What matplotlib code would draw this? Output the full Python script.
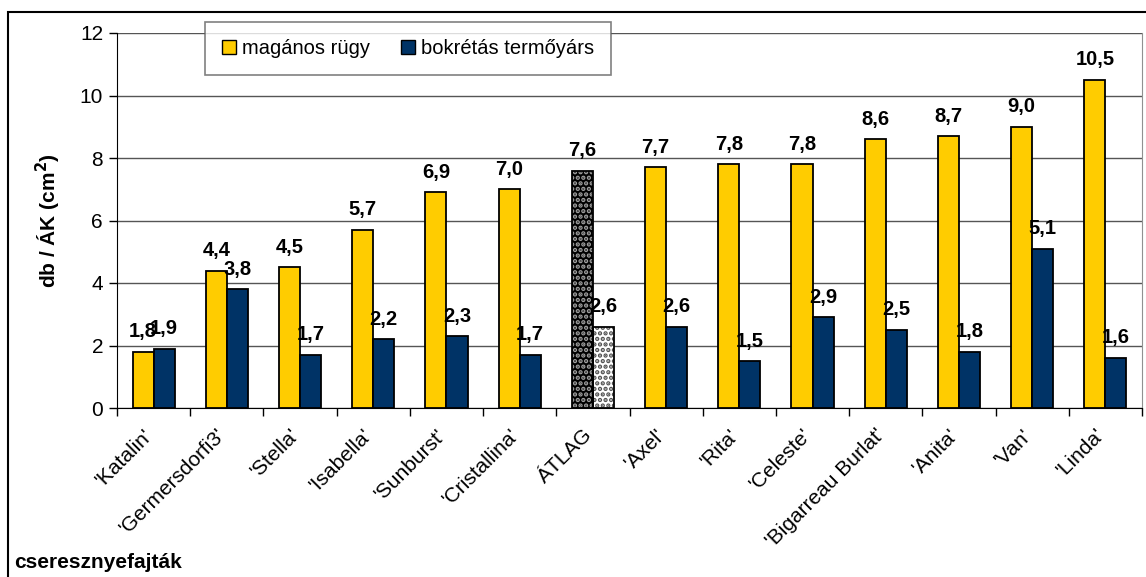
import numpy as np
import matplotlib
matplotlib.use('Agg')
import matplotlib.pyplot as plt
from matplotlib.patches import Rectangle, Patch

plt.rcParams['font.family'] = ['Liberation Sans', 'DejaVu Sans']
plt.rcParams['hatch.linewidth'] = 2.2

fajtak = ["'Katalin'", "'Germersdorfi3'", "'Stella'", "'Isabella'", "'Sunburst'",
          "'Cristallina'", "ÁTLAG", "'Axel'", "'Rita'", "'Celeste'",
          "'Bigarreau Burlat'", "'Anita'", "'Van'", "'Linda'"]
maganos = [1.8, 4.4, 4.5, 5.7, 6.9, 7.0, 7.6, 7.7, 7.8, 7.8, 8.6, 8.7, 9.0, 10.5]
bokretas = [1.9, 3.8, 1.7, 2.2, 2.3, 1.7, 2.6, 2.6, 1.5, 2.9, 2.5, 1.8, 5.1, 1.6]
atlag_idx = 6

sarga = '#ffcc00'
kek = '#003366'

fig = plt.figure(figsize=(11.46, 5.77), dpi=100)
ax = fig.add_axes([117 / 1146, 1 - 408 / 577, 1025 / 1146, 375 / 577])

x = np.arange(len(fajtak))
w = 0.288
for i in range(len(fajtak)):
    if i == atlag_idx:
        # mintazott atlag oszlopok
        ax.bar(x[i] - w / 2, maganos[i], w, color='black', edgecolor='#a0a0a0',
               hatch='...', lw=0, zorder=3)
        ax.bar(x[i] - w / 2, maganos[i], w, fill=False, edgecolor='black', lw=1.3, zorder=4)
        ax.bar(x[i] + w / 2, bokretas[i], w, color='white', edgecolor='#505050',
               hatch='...', lw=0, zorder=3)
        ax.bar(x[i] + w / 2, bokretas[i], w, fill=False, edgecolor='black', lw=1.3, zorder=4)
    else:
        ax.bar(x[i] - w / 2, maganos[i], w, color=sarga, edgecolor='black', lw=1.3, zorder=3)
        ax.bar(x[i] + w / 2, bokretas[i], w, color=kek, edgecolor='black', lw=1.3, zorder=3)

for i in range(len(fajtak)):
    for xx, v in [(x[i] - w / 2, maganos[i]), (x[i] + w / 2, bokretas[i])]:
        ax.annotate(('%.1f' % v).replace('.', ','), (xx, v), xytext=(0, 10.5),
                    textcoords='offset points', ha='center', va='baseline',
                    fontsize=14.5, fontweight='bold', zorder=5)

ax.set_xlim(-0.5, len(fajtak) - 0.5)
ax.set_ylim(0, 12)
ax.set_yticks(np.arange(0, 13, 2))
ax.yaxis.grid(True, color='#555555', lw=1)
ax.set_axisbelow(True)
ax.tick_params(axis='y', length=6, width=1, labelsize=15, pad=4)
ax.set_xticks(x)
ax.set_xticklabels(fajtak, rotation=45, ha='right', va='baseline', rotation_mode='anchor',
                   fontsize=15)
ax.set_xticks(np.arange(-0.5, len(fajtak), 1), minor=True)
ax.tick_params(axis='x', which='major', length=0, pad=20)
ax.tick_params(axis='x', which='minor', length=6, width=1)
ax.spines['top'].set_visible(False)
ax.spines['right'].set_color('#909090')
ax.set_ylabel('db / ÁK (cm$^\\mathbf{2}$)', fontsize=15, fontweight='bold', labelpad=12)

handles = [Patch(facecolor=sarga, edgecolor='black', label='magános rügy'),
           Patch(facecolor=kek, edgecolor='black', label='bokrétás termőyárs')]
leg = ax.legend(handles=handles, loc='upper left', bbox_to_anchor=(0.086, 1.029), ncol=2,
                fontsize=14.5, frameon=True, fancybox=False, edgecolor='#606060',
                handlelength=0.7, handleheight=0.7, handletextpad=0.3,
                columnspacing=1.5, borderpad=0.85, borderaxespad=0)
leg.get_frame().set_linewidth(1.2)
leg.set_zorder(6)

fig.text(14 / 1146, 1 - 563 / 577, 'cseresznyefajták', fontsize=15, fontweight='bold',
         va='center', ha='left')
fig.patches.append(Rectangle((8 / 1146, -0.1), 1.2, 1.1 - 12 / 577, transform=fig.transFigure,
                             fill=False, edgecolor='black', lw=1.5))

fig.savefig('out.png', dpi=100)
